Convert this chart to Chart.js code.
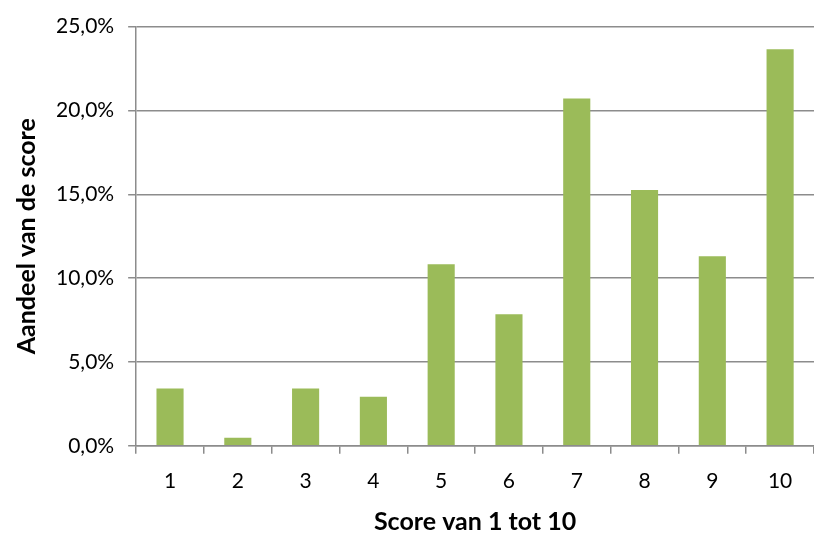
<!DOCTYPE html>
<html>
<head>
<meta charset="utf-8">
<script src="https://cdn.jsdelivr.net/npm/chart.js@4"></script>
<style>
  html, body { margin: 0; padding: 0; background: #fff; overflow: hidden; }
  #wrap { width: 814px; height: 535px; }
</style>
</head>
<body>
<div id="wrap"><canvas id="bar-chart"></canvas></div>
<script>
// data
const scores = ['1', '2', '3', '4', '5', '6', '7', '8', '9', '10'];
const shares = [3.42, 0.48, 3.42, 2.93, 10.82, 7.84, 20.71, 15.26, 11.31, 23.65];
const yTicks = [0, 5, 10, 15, 20, 25];

const gridColor = '#8c8c8c';
const fontFamily = 'Lato, "Open Sans", sans-serif';

const ctx = document.getElementById('bar-chart').getContext('2d');
new Chart(ctx, {
  type: 'bar',
  data: {
    labels: scores,
    datasets: [{
      data: shares,
      backgroundColor: '#9bbb59',
      barPercentage: 0.4,
      categoryPercentage: 1.0
    }]
  },
  options: {
    responsive: true,
    maintainAspectRatio: false,
    animation: false,
    layout: { padding: { top: -1, right: 0, left: 12, bottom: 1 } },
    plugins: { legend: { display: false }, tooltip: { enabled: false } },
    scales: {
      x: {
        grid: { drawOnChartArea: false, color: gridColor, lineWidth: 1.5, tickLength: 8, offset: true },
        border: { color: gridColor, width: 1.5 },
        ticks: { color: '#000', font: { family: fontFamily, size: 21 }, padding: 15, maxRotation: 0 },
        title: {
          display: true, text: 'Score van 1 tot 10', color: '#000',
          font: { family: fontFamily, size: 25, weight: 'bold', lineHeight: 1 }, padding: { top: 0, bottom: 0 }
        }
      },
      y: {
        min: 0,
        max: 25,
        afterBuildTicks: (axis) => { axis.ticks = yTicks.map(v => ({ value: v })); },
        grid: { color: gridColor, lineWidth: 1.5, tickLength: 8 },
        border: { color: gridColor, width: 1.5 },
        ticks: {
          color: '#000', font: { family: fontFamily, size: 21 }, padding: 14,
          callback: (v) => v.toFixed(1).replace('.', ',') + '%'
        },
        title: {
          display: true, text: 'Aandeel van de score', color: '#000',
          font: { family: fontFamily, size: 25, weight: 'bold' }, padding: { top: 0, bottom: 0 }
        }
      }
    }
  }
});
</script>
</body>
</html>
